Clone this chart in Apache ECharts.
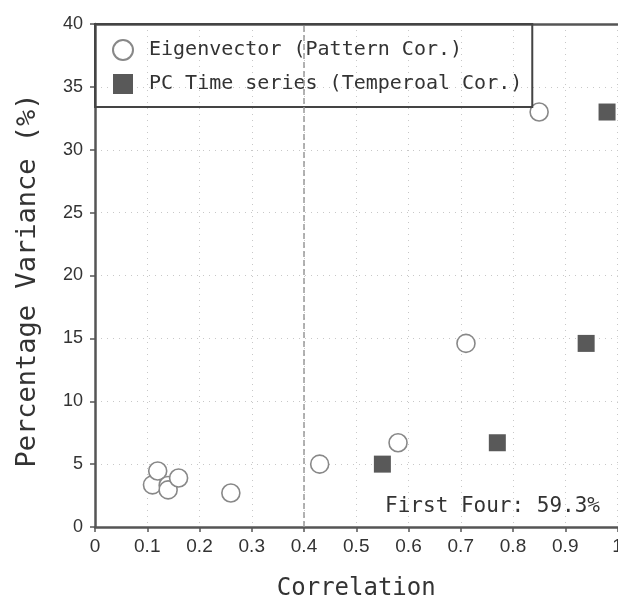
<!DOCTYPE html>
<html>
<head>
<meta charset="utf-8">
<script src="https://cdn.jsdelivr.net/npm/echarts@6/dist/echarts.min.js"></script>
<style>
  html, body { margin: 0; padding: 0; background: #fff; overflow: hidden; }
  #chart { width: 640px; height: 606px; }
</style>
</head>
<body>
<div id="chart"></div>
<script>
const FONT = "'DejaVu Sans Mono', monospace";
const TICK_FONT = "'Liberation Sans', sans-serif";

// eigenvector (pattern correlation) vs percentage variance
const eigenCorr = [0.11, 0.12, 0.14, 0.14, 0.16, 0.26, 0.43, 0.58, 0.71, 0.85];
const eigenVar = [3.35, 4.45, 3.3, 2.95, 3.9, 2.7, 5.0, 6.7, 14.6, 33.0];

// PC time series (temporal correlation) vs percentage variance
const pcCorr = [0.55, 0.77, 0.94, 0.98];
const pcVar = [5.0, 6.7, 14.6, 33.0];

const cutoff = 0.4;
const note = "First Four: 59.3%";

const chart = echarts.init(document.getElementById("chart"), null, { renderer: "canvas" });

const gridLine = { lineStyle: { color: "#c8c8c8", type: [1, 5], width: 1 } };

chart.setOption({
  animation: false,
  textStyle: { fontFamily: FONT },
  grid: { left: 95, top: 24, right: 22.5, bottom: 74 },
  legend: {
    left: 95,
    top: 24,
    orient: "vertical",
    borderColor: "#444",
    borderWidth: 2,
    padding: [15, 10, 13, 17],
    itemGap: 13,
    itemWidth: 20,
    itemHeight: 20,
    textStyle: { fontFamily: FONT, fontSize: 20, color: "#333", padding: [0, 0, 0, 11] },
    data: ["Eigenvector (Pattern Cor.)", "PC Time series (Temperoal Cor.)"],
  },
  xAxis: [
    {
      type: "value",
      min: 0,
      max: 1,
      interval: 0.1,
      name: "Correlation",
      nameLocation: "middle",
      nameGap: 50,
      nameTextStyle: { fontFamily: FONT, fontSize: 24, color: "#333" },
      axisLine: { lineStyle: { color: "#555", width: 2.5 } },
      axisTick: { length: 5, lineStyle: { color: "#555", width: 1.5 } },
      axisLabel: { fontFamily: TICK_FONT, fontSize: 19, color: "#333", margin: 10 },
      splitLine: gridLine,
    },
    {
      type: "value",
      position: "top",
      min: 0,
      max: 1,
      axisLine: { show: true, lineStyle: { color: "#555", width: 2.5 } },
      axisTick: { show: false },
      axisLabel: { show: false },
      splitLine: { show: false },
    },
  ],
  yAxis: {
    type: "value",
    min: 0,
    max: 40,
    interval: 5,
    name: "Percentage Variance (%)",
    nameLocation: "middle",
    nameGap: 54,
    nameTextStyle: { fontFamily: FONT, fontSize: 27, color: "#333", padding: [0, 10, 0, 0] },
    axisLine: { show: true, lineStyle: { color: "#555", width: 2.5 } },
    axisTick: { show: true, length: 5, lineStyle: { color: "#555", width: 1.5 } },
    axisLabel: { fontFamily: TICK_FONT, fontSize: 18, color: "#333", margin: 12 },
    splitLine: gridLine,
  },
  series: [
    {
      name: "Eigenvector (Pattern Cor.)",
      type: "scatter",
      symbol: "circle",
      symbolSize: 18,
      data: eigenCorr.map((x, i) => [x, eigenVar[i]]),
      itemStyle: { color: "#fff", borderColor: "#888", borderWidth: 1.6, opacity: 1 },
      markLine: {
        silent: true,
        symbol: "none",
        label: { show: false },
        lineStyle: { color: "#999", type: "dashed", width: 1.5 },
        data: [{ xAxis: cutoff }],
      },
    },
    {
      name: "PC Time series (Temperoal Cor.)",
      type: "scatter",
      symbol: "rect",
      symbolSize: 17,
      data: pcCorr.map((x, i) => [x, pcVar[i]]),
      itemStyle: { color: "#595959", opacity: 1 },
    },
  ],
  graphic: [
    {
      type: "text",
      right: 40,
      top: 496,
      style: { text: note, fontFamily: FONT, fontSize: 21, fill: "#333" },
    },
  ],
});
</script>
</body>
</html>
